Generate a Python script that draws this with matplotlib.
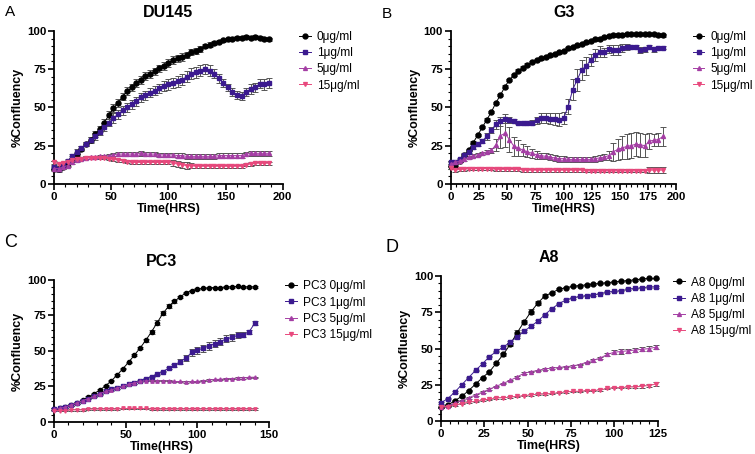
"""
Confluency time courses for four cell lines treated with increasing doses.
"""
import matplotlib
matplotlib.use("Agg")
import matplotlib.pyplot as plt
from matplotlib.ticker import MultipleLocator
from matplotlib.lines import Line2D

plt.rcParams['font.family'] = ['Liberation Sans', 'DejaVu Sans']

########################################################################################################################
# Data
########################################################################################################################

doses = ["0\u03bcg/ml", "1\u03bcg/ml", "5\u03bcg/ml", "15\u03bcg/ml"]
colors = ["#000000", "#3b1a8f", "#a43ea4", "#e8497d"]
markers = ["o", "s", "^", "v"]
marker_scale = [1.0, 0.95, 0.8, 0.8]

# DU145, every 4 h from 0 to 188
du145_time = list(range(0, 189, 4))
du145_0 = [10, 9.5, 11, 13.5, 16.5, 19.5, 23, 26, 29, 32.5, 36, 40, 45, 49.5, 53, 57, 60.5, 63, 66, 68, 70.5, 72,
           73.5, 75.5, 77, 79, 81, 82, 83, 84.5, 86, 87, 88, 90, 91, 92, 93, 94, 94.5, 95, 95.5, 95.5, 96, 95.5, 96,
           95.5, 95, 94.5]
du145_1 = [11, 10, 12, 15, 18, 21, 23.5, 26, 28.5, 31, 34, 37, 40, 43, 45.5, 48, 50, 52, 54, 56.5, 58, 59.5, 61,
           62.5, 64, 65, 66, 67, 68, 70, 72, 73, 74, 75, 74, 72, 69, 66, 63, 60, 58, 57.5, 60, 62, 63, 65.5, 65, 66]
du145_5 = [10, 10, 11, 12, 14, 15.5, 16.5, 17, 17.5, 17.5, 18, 18, 18.5, 19, 19.5, 19.5, 19.5, 19.5, 19.5, 20, 19.5,
           19.5, 19.5, 19, 19, 19, 19, 18.5, 18.5, 18, 18, 18, 18, 18, 18, 18, 18.5, 18.5, 18.5, 18.5, 18.5, 18.5,
           19.5, 20, 20, 20, 20, 20]
du145_15 = [14, 13, 13.5, 14.5, 15.5, 16, 16.5, 17, 17, 17, 17, 17, 16.5, 16, 15.5, 15, 14.5, 14, 14, 14, 14, 14,
            14, 14, 14, 14, 13.5, 13, 12.5, 12, 12, 11.5, 11.5, 11.5, 11.5, 11.5, 11.5, 11.5, 11.5, 11.5, 11.5, 11.5,
            12.5, 13, 13.5, 13.5, 13.5, 13.5]
du145_err0 = [1.5, 1.5, 1.5, 1.5, 1.5, 1.5, 1.5, 1.5, 1.5, 2, 2, 2.5, 2.5, 2.5, 2.5, 2.5, 2.5, 2.5, 2.5, 2.5, 2.5,
              2.5, 2.5, 2.5, 2.5, 2.5, 2.5, 2.5, 2.5, 2, 2, 2, 2, 1.5, 1.5, 1.5, 1, 1, 1, 1, 1, 1, 1, 1, 1, 1, 1, 1]
du145_err1 = [1.5, 1.5, 1.5, 1.5, 1.5, 1.5, 1.5, 1.5, 2, 2, 2, 2.5, 2.5, 3, 3, 3, 3, 3, 3, 3, 3, 3, 3, 3, 3.5, 3.5,
              3.5, 3.5, 3.5, 3.5, 3.5, 3.5, 3.5, 3.5, 3.5, 3, 3, 2.5, 2.5, 2.5, 2.5, 2.5, 2.5, 3, 3, 3, 3.5, 3.5]
du145_err5 = [1] * 14 + [1.5] * 34
du145_err15 = [1] * 26 + [2, 2, 2, 2, 1.5] + [1] * 17

# G3, every 4 h from 0 to 188
g3_time = list(range(0, 189, 4))
g3_0 = [12, 12, 15, 19, 22, 27, 32, 37, 42, 47, 53, 58, 63.5, 68, 71, 74, 76, 78, 79.5, 81, 82, 83, 84, 85, 86, 87,
        88.5, 89.5, 90.5, 91.5, 92.5, 93.5, 94.5, 95, 96, 96.5, 97, 97.5, 97.5, 98, 98, 98, 98, 98, 98, 98, 97.5, 97]
g3_1 = [14, 14, 16, 19, 21, 24, 26, 28, 31, 35, 39, 41, 42.5, 41.5, 41, 40, 39.5, 39.5, 40, 41.5, 43, 43, 42.5,
        42.5, 42, 43, 50.5, 61.5, 68, 74.5, 77, 81, 84, 86.5, 86, 88, 87.5, 87.5, 89, 89.5, 89.5, 89.5, 87.5, 88,
        89.5, 88, 88.5, 89]
g3_5 = [13, 14, 15, 16, 17.5, 18.5, 19, 20, 21, 22, 25.5, 31.5, 33, 29, 24.5, 23.5, 22, 21, 20, 19, 18.5, 18, 17.5,
        17, 16.5, 16.5, 16, 16, 16, 16, 16, 16, 16.5, 17, 17.5, 18.5, 21, 22.5, 23.5, 24.5, 25, 26, 25.5, 25, 28,
        28.5, 29, 31]
g3_15 = [10.5, 9, 9.5, 9.5, 10, 10, 10, 10, 10, 10, 9.5, 9.5, 9.5, 9.5, 9.5, 9.5, 9, 9, 9, 9, 9, 9, 9, 9, 9, 9, 9,
         9, 9, 9, 8.5, 8.5, 8.5, 8.5, 8.5, 8.5, 8.5, 8.5, 8.5, 8.5, 8.5, 8.5, 8.5, 8.5, 9, 9, 9, 9]
g3_err0 = [0.8] * 48
g3_err1 = [1, 1, 1, 1, 1, 1, 1.5, 1.5, 2, 2, 3, 3, 3, 2, 1.5, 1, 1, 1, 1.5, 2.5, 3, 3, 3.5, 4, 4, 4, 5, 7, 7, 6.5,
           6, 4, 4, 3.5, 3, 2.5, 3, 3, 2.5, 2, 1.5, 1.5, 2, 1.5, 1.5, 1.5, 1, 1]
g3_err5 = [1, 1, 1, 1, 1, 1, 1, 1, 1, 1.5, 4, 8, 9, 8, 6, 5, 4, 3.5, 3, 2.5, 2, 2, 2, 2, 2, 2, 1.5, 1.5, 1.5, 1.5,
           1.5, 1.5, 2, 2, 2, 3, 6, 7, 7.5, 8, 8, 8, 8, 7.5, 5, 4, 4.5, 6]
g3_err15 = [1] * 44 + [2, 2, 2, 2]

# PC3, every 4 h from 0 to 140
pc3_time = list(range(0, 141, 4))
pc3_0 = [9, 9.5, 10.5, 12, 13.5, 15.5, 17.5, 20, 22.5, 25.5, 29, 33, 37.5, 42, 47, 52, 57.5, 63.5, 70, 76.5, 81.5,
         85, 88, 91, 92.5, 93.5, 94, 94.5, 94.5, 94.5, 95, 95, 95.5, 95, 95, 95]
pc3_1 = [9, 9.5, 10.5, 12, 13.5, 15, 16.5, 18, 19.5, 21.5, 23, 24, 25, 26.5, 27.5, 29, 30.5, 32, 33.5, 35.5, 38, 40,
         42.5, 45, 49, 50.5, 52, 53.5, 55, 56.5, 58.5, 59.5, 61, 61.5, 63.5, 69.5]
pc3_5 = [9, 9.5, 10.5, 12, 13.5, 15, 16.5, 18, 20, 21.5, 22.5, 24, 25, 26.5, 27.5, 28.5, 29, 29, 29, 29, 29, 28.5,
         28.5, 28, 28.5, 28.5, 29, 29.5, 30, 30, 30.5, 30.5, 31, 31, 31.5, 31.5]
pc3_15 = [8, 8, 8, 8.5, 8.5, 8.5, 9, 9, 9, 9, 9, 9, 9.5, 9.5, 9.5, 9.5, 9.5, 9, 9, 9, 9, 9, 9, 9, 9, 9, 9, 9, 9, 9,
          9, 9, 9, 9, 9, 9]
pc3_err0 = [0.5] * 16 + [1, 1.5, 2, 1.5, 1.5, 1, 1] + [0.5] * 13
pc3_err1 = [0.5] * 20 + [1, 1, 1.5, 2, 2.5, 2.5, 2.5, 2.5, 2.5, 2.5, 2.5, 2.5, 2, 2, 1.5, 1.5]
pc3_err5 = [0.5] * 36
pc3_err15 = [0.5] * 36

# A8, every 4 h from 0 to 124
a8_time = list(range(0, 125, 4))
a8_0 = [9.5, 11, 14, 17, 21, 25.5, 30, 34, 40, 46, 53, 61, 68.5, 75.5, 81.5, 86.5, 88.5, 91, 92, 93, 93.5, 94, 94.5,
        95, 95.5, 96, 96.5, 97, 97.5, 98, 98.5, 98.5]
a8_1 = [12.5, 15.5, 20, 25, 30, 35, 39.5, 44.5, 48, 51, 54.5, 58, 62, 65.5, 69, 73.5, 77.5, 81, 83.5, 85, 86, 86.5,
        87, 88, 89, 89.5, 90, 91, 91.5, 92, 92.5, 92.5]
a8_5 = [9.5, 10.5, 12.5, 14, 16, 18, 20, 22, 24, 26, 28, 30.5, 33, 34, 35, 36, 36.5, 37, 37.5, 38, 39, 40.5, 42,
        43.5, 46, 47.5, 48, 48.5, 49, 49.5, 50, 51]
a8_15 = [9.5, 10, 11, 12, 13, 13.5, 14.5, 15, 16, 16, 16.5, 17, 17.5, 18, 18.5, 18.5, 19, 19.5, 20, 20.5, 20.5, 21,
         21, 21.5, 22.5, 23, 23, 23.5, 23.5, 24, 24.5, 25.5]
a8_err0 = [0.5] * 9 + [1, 1, 1.5, 1.5, 1.5, 1.5, 1] + [0.5] * 16
a8_err1 = [0.5] * 32
a8_err5 = [0.5] * 22 + [1, 1, 1, 1.5, 1.5, 1.5, 1.5, 1.5, 1.5, 1.5]
a8_err15 = [0.5] * 28 + [1, 1, 1, 1.5]

########################################################################################################################
# Plot helpers
########################################################################################################################

def style_axis(ax, xmax, xmajor, xminor):
    ax.spines['top'].set_visible(False)
    ax.spines['right'].set_visible(False)
    ax.spines['left'].set_linewidth(1.3)
    ax.spines['bottom'].set_linewidth(1.3)
    ax.set_xlim(0, xmax)
    ax.set_ylim(0, 100)
    ax.xaxis.set_major_locator(MultipleLocator(xmajor))
    ax.xaxis.set_minor_locator(MultipleLocator(xminor))
    ax.yaxis.set_major_locator(MultipleLocator(25))
    ax.yaxis.set_minor_locator(MultipleLocator(5))
    ax.tick_params(which='major', length=4, width=1.2, labelsize=8.2, pad=1.5)
    ax.tick_params(which='minor', length=2, width=0.8)
    for lab in ax.get_xticklabels() + ax.get_yticklabels():
        lab.set_fontweight('bold')
    ax.set_xlabel('Time(HRS)', fontsize=9, fontweight='bold', labelpad=1)
    ax.set_ylabel('%Confluency', fontsize=9, fontweight='bold', labelpad=2)


def draw_panel(ax, time, series, errors, labels, title, xmax, xmajor, xminor, ms):
    for y, e, c, m, s in zip(series, errors, colors, markers, marker_scale):
        ax.errorbar(time, y, yerr=e, color=c, marker=m, markersize=ms * s, linewidth=0.7,
                    ecolor='#555555', elinewidth=0.7, capsize=2, capthick=0.7, clip_on=False, zorder=3)
    style_axis(ax, xmax, xmajor, xminor)
    ax.set_title(title, fontsize=11.5, fontweight='bold', pad=10)
    handles = [Line2D([0], [0], color=c, marker=m, markersize=3.5 * s, linewidth=0.7)
               for c, m, s in zip(colors, markers, marker_scale)]
    ax.legend(handles, labels, loc='upper left', bbox_to_anchor=(1.05, 1.03), frameon=False,
              fontsize=8.6, handlelength=1.0, handletextpad=0.5, labelspacing=0.35, borderaxespad=0)

########################################################################################################################
# Figure
########################################################################################################################

fig = plt.figure(figsize=(7.55, 4.54), dpi=100)

axA = fig.add_axes([0.0715, 0.595, 0.303, 0.337])
draw_panel(axA, du145_time, [du145_0, du145_1, du145_5, du145_15],
           [du145_err0, du145_err1, du145_err5, du145_err15], doses, 'DU145', 200, 50, 10, 3.6)

axB = fig.add_axes([0.597, 0.595, 0.299, 0.337])
draw_panel(axB, g3_time, [g3_0, g3_1, g3_5, g3_15],
           [g3_err0, g3_err1, g3_err5, g3_err15], doses, 'G3', 200, 25, 5, 3.6)

axC = fig.add_axes([0.0715, 0.0705, 0.285, 0.313])
draw_panel(axC, pc3_time, [pc3_0, pc3_1, pc3_5, pc3_15],
           [pc3_err0, pc3_err1, pc3_err5, pc3_err15], ['PC3 ' + d for d in doses], 'PC3', 150, 50, 10, 3)

axD = fig.add_axes([0.584, 0.0727, 0.287, 0.319])
draw_panel(axD, a8_time, [a8_0, a8_1, a8_5, a8_15],
           [a8_err0, a8_err1, a8_err5, a8_err15], ['A8 ' + d for d in doses], 'A8', 125, 25, 5, 3.5)

fig.text(0.006, 0.965, 'A', fontsize=11)
fig.text(0.505, 0.96, 'B', fontsize=11)
fig.text(0.006, 0.455, 'C', fontsize=13)
fig.text(0.51, 0.445, 'D', fontsize=13)

fig.savefig('out.png', dpi=100)
